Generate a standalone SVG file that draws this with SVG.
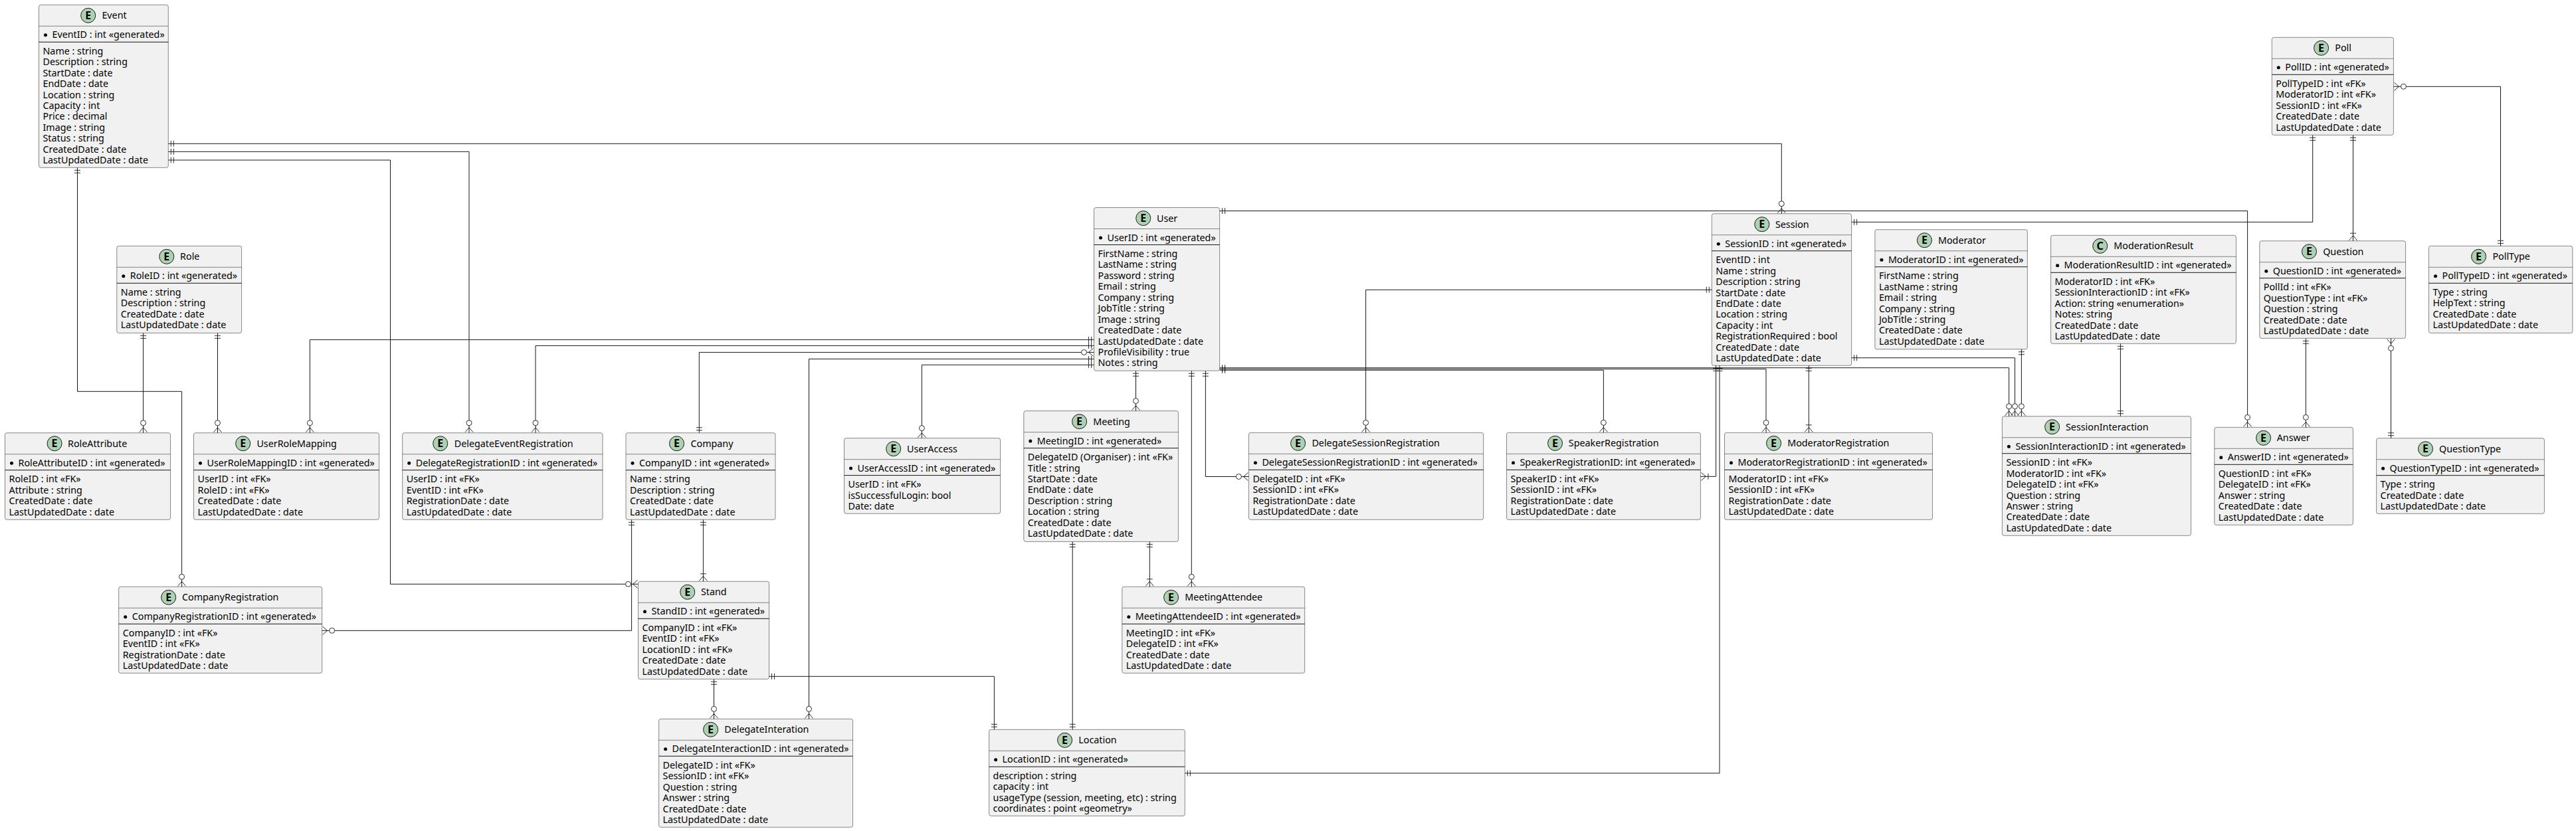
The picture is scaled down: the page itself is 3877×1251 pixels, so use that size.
<svg xmlns="http://www.w3.org/2000/svg" width="3877" height="1251" viewBox="0 0 3877 1251">
<style>
text{font-family:"Noto Sans","Open Sans","Liberation Sans",sans-serif;font-size:14.3px;fill:#000}
.node rect{fill:#F1F1F1;stroke:#181818;stroke-width:.5}
.node path{stroke:#181818;stroke-width:.5;fill:none}
.node path.s{stroke-width:1}
.node circle.b{fill:#ADD1B2;stroke:#181818;stroke-width:1}
.node circle.d{fill:#000}
text.g{font-weight:700;font-size:16px;text-anchor:middle}
#links path{fill:none;stroke:#181818;stroke-width:1}
marker path{fill:none;stroke:#181818;stroke-width:.9}
marker circle{fill:#fff;stroke:#181818;stroke-width:.9}
</style>
<defs>
<marker id="one" viewBox="-24 -12 26 24" markerWidth="26" markerHeight="24" refX="0" refY="0" markerUnits="userSpaceOnUse" orient="auto-start-reverse"><path d="M-4 -4.5V4.5M-8 -4.5V4.5"/></marker>
<marker id="zm" viewBox="-24 -12 26 24" markerWidth="26" markerHeight="24" refX="0" refY="0" markerUnits="userSpaceOnUse" orient="auto-start-reverse"><path d="M-8 0L-1 -6M-8 0L-1 6"/><circle cx="-15" cy="0" r="4"/></marker>
<marker id="om" viewBox="-24 -12 26 24" markerWidth="26" markerHeight="24" refX="0" refY="0" markerUnits="userSpaceOnUse" orient="auto-start-reverse"><path d="M-8 0L-1 -6M-8 0L-1 6M-11.5 -4.5V4.5"/></marker>
</defs>
<rect width="3877" height="1251" fill="#fff"/>
<g id="nodes">
<g id="Event" class="node" transform="translate(58.5 7.3)"><rect width="194.8" height="245" rx="3"/><path d="M0 32H194.8"/><path class="s" d="M0 56H194.8"/><circle class="b" cx="74.2" cy="16" r="11"/><text class="g" x="74.2" y="21.6">E</text><text x="94.9" y="21">Event</text><circle class="d" cx="10" cy="45.5" r="2.5"/><text x="20" y="50">EventID : int «generated»</text><text x="6" y="74.5">Name : string<tspan x="6" dy="16.45">Description : string</tspan><tspan x="6" dy="16.45">StartDate : date</tspan><tspan x="6" dy="16.45">EndDate : date</tspan><tspan x="6" dy="16.45">Location : string</tspan><tspan x="6" dy="16.45">Capacity : int</tspan><tspan x="6" dy="16.45">Price : decimal</tspan><tspan x="6" dy="16.45">Image : string</tspan><tspan x="6" dy="16.45">Status : string</tspan><tspan x="6" dy="16.45">CreatedDate : date</tspan><tspan x="6" dy="16.45">LastUpdatedDate : date</tspan></text></g>
<g id="Role" class="node" transform="translate(175.8 370.3)"><rect width="187.8" height="131" rx="3"/><path d="M0 32H187.8"/><path class="s" d="M0 56H187.8"/><circle class="b" cx="75" cy="16" r="11"/><text class="g" x="75" y="21.6">E</text><text x="95.3" y="21">Role</text><circle class="d" cx="10" cy="45.5" r="2.5"/><text x="20" y="50">RoleID : int «generated»</text><text x="6" y="74.5">Name : string<tspan x="6" dy="16.45">Description : string</tspan><tspan x="6" dy="16.45">CreatedDate : date</tspan><tspan x="6" dy="16.45">LastUpdatedDate : date</tspan></text></g>
<g id="RoleAttribute" class="node" transform="translate(7.5 651.7)"><rect width="249.1" height="130.6" rx="3"/><path d="M0 32H249.1"/><path class="s" d="M0 56H249.1"/><circle class="b" cx="74.6" cy="16" r="11"/><text class="g" x="74.6" y="21.6">E</text><text x="94.5" y="21">RoleAttribute</text><circle class="d" cx="10" cy="45.5" r="2.5"/><text x="20" y="50">RoleAttributeID : int «generated»</text><text x="6" y="74.5">RoleID : int «FK»<tspan x="6" dy="16.45">Attribute : string</tspan><tspan x="6" dy="16.45">CreatedDate : date</tspan><tspan x="6" dy="16.45">LastUpdatedDate : date</tspan></text></g>
<g id="UserRoleMapping" class="node" transform="translate(291.5 651.7)"><rect width="279" height="130.6" rx="3"/><path d="M0 32H279"/><path class="s" d="M0 56H279"/><circle class="b" cx="74.2" cy="16" r="11"/><text class="g" x="74.2" y="21.6">E</text><text x="94.9" y="21">UserRoleMapping</text><circle class="d" cx="10" cy="45.5" r="2.5"/><text x="20" y="50">UserRoleMappingID : int «generated»</text><text x="6" y="74.5">UserID : int «FK»<tspan x="6" dy="16.45">RoleID : int «FK»</tspan><tspan x="6" dy="16.45">CreatedDate : date</tspan><tspan x="6" dy="16.45">LastUpdatedDate : date</tspan></text></g>
<g id="DelegateEventRegistration" class="node" transform="translate(605.7 651.7)"><rect width="301.3" height="130.6" rx="3"/><path d="M0 32H301.3"/><path class="s" d="M0 56H301.3"/><circle class="b" cx="57" cy="16" r="11"/><text class="g" x="57" y="21.6">E</text><text x="78" y="21">DelegateEventRegistration</text><circle class="d" cx="10" cy="45.5" r="2.5"/><text x="20" y="50">DelegateRegistrationID : int «generated»</text><text x="6" y="74.5">UserID : int «FK»<tspan x="6" dy="16.45">EventID : int «FK»</tspan><tspan x="6" dy="16.45">RegistrationDate : date</tspan><tspan x="6" dy="16.45">LastUpdatedDate : date</tspan></text></g>
<g id="Company" class="node" transform="translate(942 651.7)"><rect width="225" height="130.6" rx="3"/><path d="M0 32H225"/><path class="s" d="M0 56H225"/><circle class="b" cx="76.5" cy="16" r="11"/><text class="g" x="76.5" y="21.6">E</text><text x="97.5" y="21">Company</text><circle class="d" cx="10" cy="45.5" r="2.5"/><text x="20" y="50">CompanyID : int «generated»</text><text x="6" y="74.5">Name : string<tspan x="6" dy="16.45">Description : string</tspan><tspan x="6" dy="16.45">CreatedDate : date</tspan><tspan x="6" dy="16.45">LastUpdatedDate : date</tspan></text></g>
<g id="Stand" class="node" transform="translate(960.5 875.3)"><rect width="197" height="147" rx="3"/><path d="M0 32H197"/><path class="s" d="M0 56H197"/><circle class="b" cx="74.2" cy="16" r="11"/><text class="g" x="74.2" y="21.6">E</text><text x="94.5" y="21">Stand</text><circle class="d" cx="10" cy="45.5" r="2.5"/><text x="20" y="50">StandID : int «generated»</text><text x="6" y="74.5">CompanyID : int «FK»<tspan x="6" dy="16.45">EventID : int «FK»</tspan><tspan x="6" dy="16.45">LocationID : int «FK»</tspan><tspan x="6" dy="16.45">CreatedDate : date</tspan><tspan x="6" dy="16.45">LastUpdatedDate : date</tspan></text></g>
<g id="DelegateInteration" class="node" transform="translate(991.6 1082.3)"><rect width="291.9" height="163" rx="3"/><path d="M0 32H291.9"/><path class="s" d="M0 56H291.9"/><circle class="b" cx="78" cy="16" r="11"/><text class="g" x="78" y="21.6">E</text><text x="98.7" y="21">DelegateInteration</text><circle class="d" cx="10" cy="45.5" r="2.5"/><text x="20" y="50">DelegateInteractionID : int «generated»</text><text x="6" y="74.5">DelegateID : int «FK»<tspan x="6" dy="16.45">SessionID : int «FK»</tspan><tspan x="6" dy="16.45">Question : string</tspan><tspan x="6" dy="16.45">Answer : string</tspan><tspan x="6" dy="16.45">CreatedDate : date</tspan><tspan x="6" dy="16.45">LastUpdatedDate : date</tspan></text></g>
<g id="CompanyRegistration" class="node" transform="translate(178.7 883.3)"><rect width="306" height="130" rx="3"/><path d="M0 32H306"/><path class="s" d="M0 56H306"/><circle class="b" cx="75" cy="16" r="11"/><text class="g" x="75" y="21.6">E</text><text x="95.3" y="21">CompanyRegistration</text><circle class="d" cx="10" cy="45.5" r="2.5"/><text x="20" y="50">CompanyRegistrationID : int «generated»</text><text x="6" y="74.5">CompanyID : int «FK»<tspan x="6" dy="16.45">EventID : int «FK»</tspan><tspan x="6" dy="16.45">RegistrationDate : date</tspan><tspan x="6" dy="16.45">LastUpdatedDate : date</tspan></text></g>
<g id="User" class="node" transform="translate(1646.5 312.5)"><rect width="189.1" height="245.7" rx="3"/><path d="M0 32H189.1"/><path class="s" d="M0 56H189.1"/><circle class="b" cx="74.2" cy="16" r="11"/><text class="g" x="74.2" y="21.6">E</text><text x="94.5" y="21">User</text><circle class="d" cx="10" cy="45.5" r="2.5"/><text x="20" y="50">UserID : int «generated»</text><text x="6" y="74.5">FirstName : string<tspan x="6" dy="16.45">LastName : string</tspan><tspan x="6" dy="16.45">Password : string</tspan><tspan x="6" dy="16.45">Email : string</tspan><tspan x="6" dy="16.45">Company : string</tspan><tspan x="6" dy="16.45">JobTitle : string</tspan><tspan x="6" dy="16.45">Image : string</tspan><tspan x="6" dy="16.45">CreatedDate : date</tspan><tspan x="6" dy="16.45">LastUpdatedDate : date</tspan><tspan x="6" dy="16.45">ProfileVisibility : true</tspan><tspan x="6" dy="16.45">Notes : string</tspan></text></g>
<g id="Meeting" class="node" transform="translate(1540.8 618.6)"><rect width="232.6" height="196.8" rx="3"/><path d="M0 32H232.6"/><path class="s" d="M0 56H232.6"/><circle class="b" cx="83.8" cy="16" r="11"/><text class="g" x="83.8" y="21.6">E</text><text x="104.5" y="21">Meeting</text><circle class="d" cx="10" cy="45.5" r="2.5"/><text x="20" y="50">MeetingID : int «generated»</text><text x="6" y="74.5">DelegateID (Organiser) : int «FK»<tspan x="6" dy="16.45">Title : string</tspan><tspan x="6" dy="16.45">StartDate : date</tspan><tspan x="6" dy="16.45">EndDate : date</tspan><tspan x="6" dy="16.45">Description : string</tspan><tspan x="6" dy="16.45">Location : string</tspan><tspan x="6" dy="16.45">CreatedDate : date</tspan><tspan x="6" dy="16.45">LastUpdatedDate : date</tspan></text></g>
<g id="UserAccess" class="node" transform="translate(1270.5 659.6)"><rect width="235.1" height="113.6" rx="3"/><path d="M0 32H235.1"/><path class="s" d="M0 56H235.1"/><circle class="b" cx="74.2" cy="16" r="11"/><text class="g" x="74.2" y="21.6">E</text><text x="94.5" y="21">UserAccess</text><circle class="d" cx="10" cy="45.5" r="2.5"/><text x="20" y="50">UserAccessID : int «generated»</text><text x="6" y="74.5">UserID : int «FK»<tspan x="6" dy="16.45">isSuccessfulLogin: bool</tspan><tspan x="6" dy="16.45">Date: date</tspan></text></g>
<g id="MeetingAttendee" class="node" transform="translate(1688.8 883.3)"><rect width="274.9" height="130" rx="3"/><path d="M0 32H274.9"/><path class="s" d="M0 56H274.9"/><circle class="b" cx="73.8" cy="16" r="11"/><text class="g" x="73.8" y="21.6">E</text><text x="94.5" y="21">MeetingAttendee</text><circle class="d" cx="10" cy="45.5" r="2.5"/><text x="20" y="50">MeetingAttendeeID : int «generated»</text><text x="6" y="74.5">MeetingID : int «FK»<tspan x="6" dy="16.45">DelegateID : int «FK»</tspan><tspan x="6" dy="16.45">CreatedDate : date</tspan><tspan x="6" dy="16.45">LastUpdatedDate : date</tspan></text></g>
<g id="Location" class="node" transform="translate(1488.6 1098.3)"><rect width="294.7" height="130" rx="3"/><path d="M0 32H294.7"/><path class="s" d="M0 56H294.7"/><circle class="b" cx="114" cy="16" r="11"/><text class="g" x="114" y="21.6">E</text><text x="134.7" y="21">Location</text><circle class="d" cx="10" cy="45.5" r="2.5"/><text x="20" y="50">LocationID : int «generated»</text><text x="6" y="74.5">description : string<tspan x="6" dy="16.45">capacity : int</tspan><tspan x="6" dy="16.45">usageType (session, meeting, etc) : string</tspan><tspan x="6" dy="16.45">coordinates : point «geometry»</tspan></text></g>
<g id="DelegateSessionRegistration" class="node" transform="translate(1879.4 651.3)"><rect width="353.3" height="131" rx="3"/><path d="M0 32H353.3"/><path class="s" d="M0 56H353.3"/><circle class="b" cx="74.2" cy="16" r="11"/><text class="g" x="74.2" y="21.6">E</text><text x="95" y="21">DelegateSessionRegistration</text><circle class="d" cx="10" cy="45.5" r="2.5"/><text x="20" y="50">DelegateSessionRegistrationID : int «generated»</text><text x="6" y="74.5">DelegateID : int «FK»<tspan x="6" dy="16.45">SessionID : int «FK»</tspan><tspan x="6" dy="16.45">RegistrationDate : date</tspan><tspan x="6" dy="16.45">LastUpdatedDate : date</tspan></text></g>
<g id="SpeakerRegistration" class="node" transform="translate(2267.5 651.3)"><rect width="291.9" height="131" rx="3"/><path d="M0 32H291.9"/><path class="s" d="M0 56H291.9"/><circle class="b" cx="73" cy="16" r="11"/><text class="g" x="73" y="21.6">E</text><text x="93.3" y="21">SpeakerRegistration</text><circle class="d" cx="10" cy="45.5" r="2.5"/><text x="20" y="50">SpeakerRegistrationID: int «generated»</text><text x="6" y="74.5">SpeakerID : int «FK»<tspan x="6" dy="16.45">SessionID : int «FK»</tspan><tspan x="6" dy="16.45">RegistrationDate : date</tspan><tspan x="6" dy="16.45">LastUpdatedDate : date</tspan></text></g>
<g id="Session" class="node" transform="translate(2576.3 321.7)"><rect width="210.3" height="228.6" rx="3"/><path d="M0 32H210.3"/><path class="s" d="M0 56H210.3"/><circle class="b" cx="75.5" cy="16" r="11"/><text class="g" x="75.5" y="21.6">E</text><text x="95.6" y="21">Session</text><circle class="d" cx="10" cy="45.5" r="2.5"/><text x="20" y="50">SessionID : int «generated»</text><text x="6" y="74.5">EventID : int<tspan x="6" dy="16.45">Name : string</tspan><tspan x="6" dy="16.45">Description : string</tspan><tspan x="6" dy="16.45">StartDate : date</tspan><tspan x="6" dy="16.45">EndDate : date</tspan><tspan x="6" dy="16.45">Location : string</tspan><tspan x="6" dy="16.45">Capacity : int</tspan><tspan x="6" dy="16.45">RegistrationRequired : bool</tspan><tspan x="6" dy="16.45">CreatedDate : date</tspan><tspan x="6" dy="16.45">LastUpdatedDate : date</tspan></text></g>
<g id="Moderator" class="node" transform="translate(2821.9 345.7)"><rect width="229.4" height="180" rx="3"/><path d="M0 32H229.4"/><path class="s" d="M0 56H229.4"/><circle class="b" cx="74.5" cy="16" r="11"/><text class="g" x="74.5" y="21.6">E</text><text x="95.1" y="21">Moderator</text><circle class="d" cx="10" cy="45.5" r="2.5"/><text x="20" y="50">ModeratorID : int «generated»</text><text x="6" y="74.5">FirstName : string<tspan x="6" dy="16.45">LastName : string</tspan><tspan x="6" dy="16.45">Email : string</tspan><tspan x="6" dy="16.45">Company : string</tspan><tspan x="6" dy="16.45">JobTitle : string</tspan><tspan x="6" dy="16.45">CreatedDate : date</tspan><tspan x="6" dy="16.45">LastUpdatedDate : date</tspan></text></g>
<g id="ModerationResult" class="node" transform="translate(3086.6 354.3)"><rect width="278.8" height="163" rx="3"/><path d="M0 32H278.8"/><path class="s" d="M0 56H278.8"/><circle class="b" cx="74.1" cy="16" r="11"/><text class="g" x="74.1" y="21.6">C</text><text x="94.7" y="21">ModerationResult</text><circle class="d" cx="10" cy="45.5" r="2.5"/><text x="20" y="50">ModerationResultID : int «generated»</text><text x="6" y="74.5">ModeratorID : int «FK»<tspan x="6" dy="16.45">SessionInteractionID : int «FK»</tspan><tspan x="6" dy="16.45">Action: string «enumeration»</tspan><tspan x="6" dy="16.45">Notes: string</tspan><tspan x="6" dy="16.45">CreatedDate : date</tspan><tspan x="6" dy="16.45">LastUpdatedDate : date</tspan></text></g>
<g id="ModeratorRegistration" class="node" transform="translate(2595.5 651.3)"><rect width="313" height="131" rx="3"/><path d="M0 32H313"/><path class="s" d="M0 56H313"/><circle class="b" cx="74.1" cy="16" r="11"/><text class="g" x="74.1" y="21.6">E</text><text x="94.7" y="21">ModeratorRegistration</text><circle class="d" cx="10" cy="45.5" r="2.5"/><text x="20" y="50">ModeratorRegistrationID : int «generated»</text><text x="6" y="74.5">ModeratorID : int «FK»<tspan x="6" dy="16.45">SessionID : int «FK»</tspan><tspan x="6" dy="16.45">RegistrationDate : date</tspan><tspan x="6" dy="16.45">LastUpdatedDate : date</tspan></text></g>
<g id="SessionInteraction" class="node" transform="translate(3013.4 626.7)"><rect width="284.1" height="179.6" rx="3"/><path d="M0 32H284.1"/><path class="s" d="M0 56H284.1"/><circle class="b" cx="75.2" cy="16" r="11"/><text class="g" x="75.2" y="21.6">E</text><text x="95.6" y="21">SessionInteraction</text><circle class="d" cx="10" cy="45.5" r="2.5"/><text x="20" y="50">SessionInteractionID : int «generated»</text><text x="6" y="74.5">SessionID : int «FK»<tspan x="6" dy="16.45">ModeratorID : int «FK»</tspan><tspan x="6" dy="16.45">DelegateID : int «FK»</tspan><tspan x="6" dy="16.45">Question : string</tspan><tspan x="6" dy="16.45">Answer : string</tspan><tspan x="6" dy="16.45">CreatedDate : date</tspan><tspan x="6" dy="16.45">LastUpdatedDate : date</tspan></text></g>
<g id="Answer" class="node" transform="translate(3332.8 643.3)"><rect width="208.6" height="147" rx="3"/><path d="M0 32H208.6"/><path class="s" d="M0 56H208.6"/><circle class="b" cx="73.8" cy="16" r="11"/><text class="g" x="73.8" y="21.6">E</text><text x="93.9" y="21">Answer</text><circle class="d" cx="10" cy="45.5" r="2.5"/><text x="20" y="50">AnswerID : int «generated»</text><text x="6" y="74.5">QuestionID : int «FK»<tspan x="6" dy="16.45">DelegateID : int «FK»</tspan><tspan x="6" dy="16.45">Answer : string</tspan><tspan x="6" dy="16.45">CreatedDate : date</tspan><tspan x="6" dy="16.45">LastUpdatedDate : date</tspan></text></g>
<g id="QuestionType" class="node" transform="translate(3576.6 659.7)"><rect width="252.8" height="113.6" rx="3"/><path d="M0 32H252.8"/><path class="s" d="M0 56H252.8"/><circle class="b" cx="73.9" cy="16" r="11"/><text class="g" x="73.9" y="21.6">E</text><text x="94.4" y="21">QuestionType</text><circle class="d" cx="10" cy="45.5" r="2.5"/><text x="20" y="50">QuestionTypeID : int «generated»</text><text x="6" y="74.5">Type : string<tspan x="6" dy="16.45">CreatedDate : date</tspan><tspan x="6" dy="16.45">LastUpdatedDate : date</tspan></text></g>
<g id="Poll" class="node" transform="translate(3419.3 56.3)"><rect width="183.1" height="147" rx="3"/><path d="M0 32H183.1"/><path class="s" d="M0 56H183.1"/><circle class="b" cx="74.3" cy="16" r="11"/><text class="g" x="74.3" y="21.6">E</text><text x="95" y="21">Poll</text><circle class="d" cx="10" cy="45.5" r="2.5"/><text x="20" y="50">PollID : int «generated»</text><text x="6" y="74.5">PollTypeID : int «FK»<tspan x="6" dy="16.45">ModeratorID : int «FK»</tspan><tspan x="6" dy="16.45">SessionID : int «FK»</tspan><tspan x="6" dy="16.45">CreatedDate : date</tspan><tspan x="6" dy="16.45">LastUpdatedDate : date</tspan></text></g>
<g id="Question" class="node" transform="translate(3400.8 362.7)"><rect width="219.8" height="146.6" rx="3"/><path d="M0 32H219.8"/><path class="s" d="M0 56H219.8"/><circle class="b" cx="74.7" cy="16" r="11"/><text class="g" x="74.7" y="21.6">E</text><text x="95.4" y="21">Question</text><circle class="d" cx="10" cy="45.5" r="2.5"/><text x="20" y="50">QuestionID : int «generated»</text><text x="6" y="74.5">PollId : int «FK»<tspan x="6" dy="16.45">QuestionType : int «FK»</tspan><tspan x="6" dy="16.45">Question : string</tspan><tspan x="6" dy="16.45">CreatedDate : date</tspan><tspan x="6" dy="16.45">LastUpdatedDate : date</tspan></text></g>
<g id="PollType" class="node" transform="translate(3655.5 370.3)"><rect width="216.3" height="131" rx="3"/><path d="M0 32H216.3"/><path class="s" d="M0 56H216.3"/><circle class="b" cx="75.1" cy="16" r="11"/><text class="g" x="75.1" y="21.6">E</text><text x="95.9" y="21">PollType</text><circle class="d" cx="10" cy="45.5" r="2.5"/><text x="20" y="50">PollTypeID : int «generated»</text><text x="6" y="74.5">Type : string<tspan x="6" dy="16.45">HelpText : string</tspan><tspan x="6" dy="16.45">CreatedDate : date</tspan><tspan x="6" dy="16.45">LastUpdatedDate : date</tspan></text></g>
</g>
<g id="links">
<path d="M253.3 216.3H2681.3V321.7" marker-start="url(#one)" marker-end="url(#zm)"/>
<path d="M253.3 228.3H706V651.7" marker-start="url(#one)" marker-end="url(#zm)"/>
<path d="M253.3 241H587.5V879.3H960.5" marker-start="url(#one)" marker-end="url(#zm)"/>
<path d="M116.5 252.3V589.3H273.6V883.3" marker-start="url(#one)" marker-end="url(#zm)"/>
<path d="M215.6 501.3V651.7" marker-start="url(#one)" marker-end="url(#zm)"/>
<path d="M327.5 501.3V651.7" marker-start="url(#one)" marker-end="url(#zm)"/>
<path d="M1646.5 511.4H466.4V651.7" marker-start="url(#one)" marker-end="url(#zm)"/>
<path d="M1646.5 520.4H806V651.7" marker-start="url(#one)" marker-end="url(#zm)"/>
<path d="M1646.5 530.4H1052.3V651.7" marker-start="url(#zm)" marker-end="url(#one)"/>
<path d="M1646.5 540.4H1217.5V1082.3" marker-start="url(#one)" marker-end="url(#zm)"/>
<path d="M1646.5 549.3H1387.4V659.6" marker-start="url(#one)" marker-end="url(#zm)"/>
<path d="M1709.5 558.2V618.6" marker-start="url(#one)" marker-end="url(#zm)"/>
<path d="M1793.3 558.2V883.3" marker-start="url(#one)" marker-end="url(#zm)"/>
<path d="M1814.4 558.2V717.5H1879.4" marker-start="url(#one)" marker-end="url(#zm)"/>
<path d="M1835.6 317.5H3382.6V643.3" marker-start="url(#one)" marker-end="url(#zm)"/>
<path d="M1835.6 553.7H3023.6V626.7" marker-start="url(#one)" marker-end="url(#zm)"/>
<path d="M1835.6 555.5H2658V651.3" marker-start="url(#one)" marker-end="url(#zm)"/>
<path d="M1835.6 557.3H2413.4V651.3" marker-start="url(#one)" marker-end="url(#zm)"/>
<path d="M1614.2 815.4V1098.3" marker-start="url(#one)" marker-end="url(#one)"/>
<path d="M1730.3 815.4V883.3" marker-start="url(#one)" marker-end="url(#om)"/>
<path d="M950.6 782.3V949.3H484.7" marker-start="url(#one)" marker-end="url(#zm)"/>
<path d="M1058.4 782.3V875.3" marker-start="url(#one)" marker-end="url(#om)"/>
<path d="M1074.5 1022.3V1082.3" marker-start="url(#one)" marker-end="url(#zm)"/>
<path d="M1157.5 1018.3H1496.4V1098.3" marker-start="url(#one)" marker-end="url(#one)"/>
<path d="M2576.3 436.3H2055.6V651.3" marker-start="url(#one)" marker-end="url(#zm)"/>
<path d="M2582.6 550.3V717.3H2559.4" marker-start="url(#one)" marker-end="url(#om)"/>
<path d="M2588 550.3V1164H1783.3" marker-start="url(#one)" marker-end="url(#one)"/>
<path d="M2722.3 550.3V651.3" marker-start="url(#one)" marker-end="url(#om)"/>
<path d="M2786.6 334.3H3480.7V203.3" marker-start="url(#one)" marker-end="url(#one)"/>
<path d="M2786.6 538.7H3032.5V626.7" marker-start="url(#one)" marker-end="url(#zm)"/>
<path d="M3042.4 525.7V626.7" marker-start="url(#one)" marker-end="url(#zm)"/>
<path d="M3191.4 517.3V626.7" marker-start="url(#one)" marker-end="url(#one)"/>
<path d="M3541.5 203.3V362.7" marker-start="url(#one)" marker-end="url(#om)"/>
<path d="M3602.4 130.3H3763.5V370.3" marker-start="url(#zm)" marker-end="url(#one)"/>
<path d="M3470.4 509.3V643.3" marker-start="url(#one)" marker-end="url(#zm)"/>
<path d="M3598.5 509.3V659.7" marker-start="url(#zm)" marker-end="url(#one)"/>
</g>
</svg>
